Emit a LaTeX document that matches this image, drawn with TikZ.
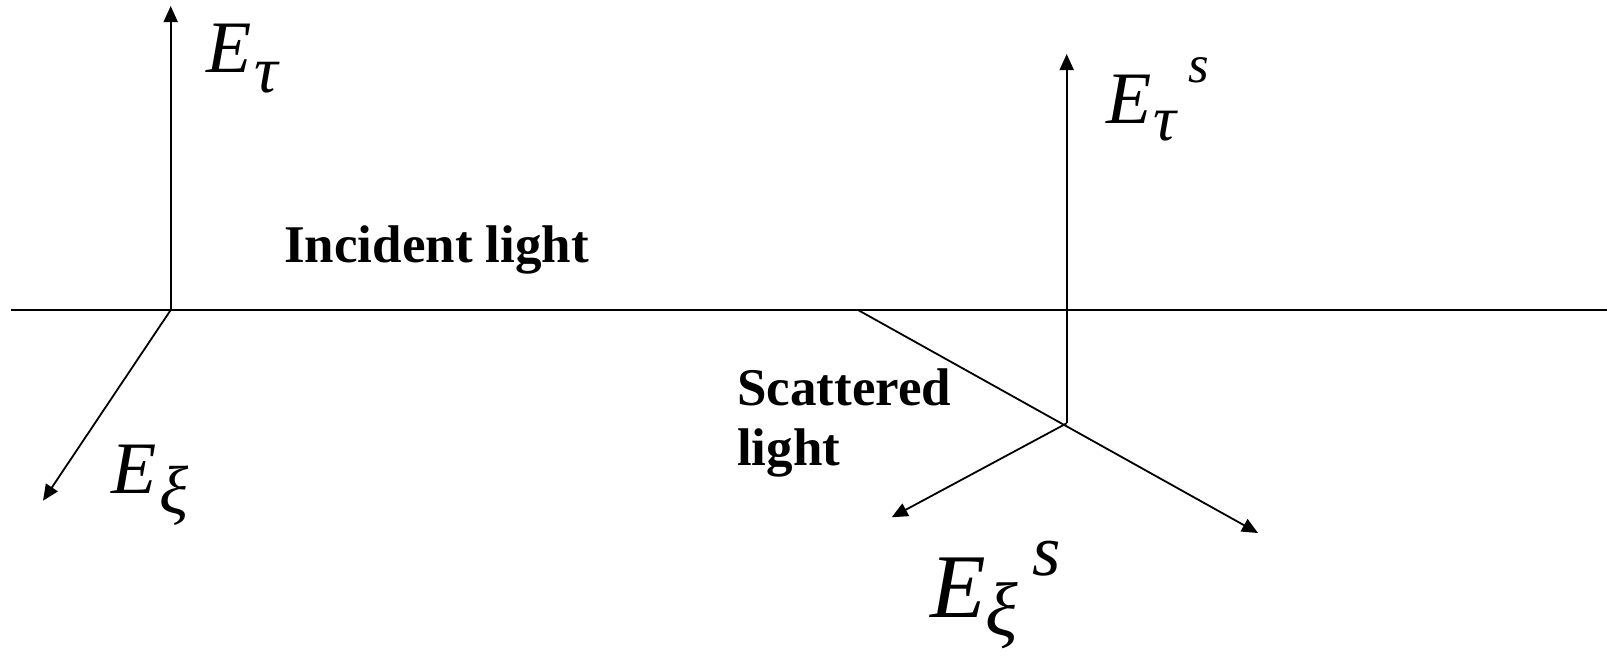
\documentclass[tikz,border=0pt]{standalone}
\usepackage{fontspec}
\setmainfont{Liberation Serif}
\usetikzlibrary{arrows.meta}
\tikzset{
  ax/.style={line width=1.8pt, -{Triangle[length=16pt,width=14pt]}},
  ln/.style={line width=1.8pt},
  lab/.style={anchor=base west, inner sep=0pt, font=\itshape},
  txt/.style={anchor=base west, inner sep=0pt, font=\bfseries\fontsize{53}{60}\selectfont, align=left},
}
\begin{document}
\begin{tikzpicture}[x=1pt,y=1pt]
\useasboundingbox (0,0) rectangle (1607,-656);
\coordinate (Lleft) at (11,-310);
\coordinate (Lright) at (1607,-310);
\coordinate (O1) at (170.7,-310);
\coordinate (T1) at (170.7,-6);
\coordinate (X1) at (43,-500.7);
\coordinate (S0) at (858,-310);
\coordinate (O2) at (1066.7,-423.3);
\coordinate (T2) at (1066.7,-54);
\coordinate (X2) at (891.7,-517.3);
\coordinate (Send) at (1258,-533);
\draw[ln] (Lleft) -- (Lright);
\draw[ax] (O1) -- (T1);
\draw[ax] (O1) -- (X1);
\draw[ax] (S0) -- (Send);
\draw[ax] (O2) -- (T2);
\draw[ax] (O2) -- (X2);
\node[lab] (Et) at (206,-72) {\fontsize{74}{74}\selectfont E\hspace{3pt}\raisebox{-20pt}{\fontsize{66}{66}\selectfont τ}};
\node[lab] (Ex) at (111,-493) {\fontsize{74}{74}\selectfont E\hspace{3pt}\raisebox{-20pt}{\fontsize{68}{68}\selectfont ξ}};
\node[lab] (Ets) at (1106,-123) {\fontsize{74}{74}\selectfont E\hspace{2pt}\raisebox{-17pt}{\fontsize{64}{64}\selectfont τ}\hspace{12pt}\raisebox{41pt}{\fontsize{53}{53}\selectfont s}};
\node[lab] (Exs) at (930,-617) {\fontsize{91}{91}\selectfont E\raisebox{-18pt}{\fontsize{76}{76}\selectfont ξ}\hspace{14pt}\raisebox{42pt}{\fontsize{73}{73}\selectfont s}};
\node[txt] (inc) at (284,-262) {Incident light};
\node[txt] (sca) at (737,-465) {Scattered\\light};
\end{tikzpicture}
\end{document}
